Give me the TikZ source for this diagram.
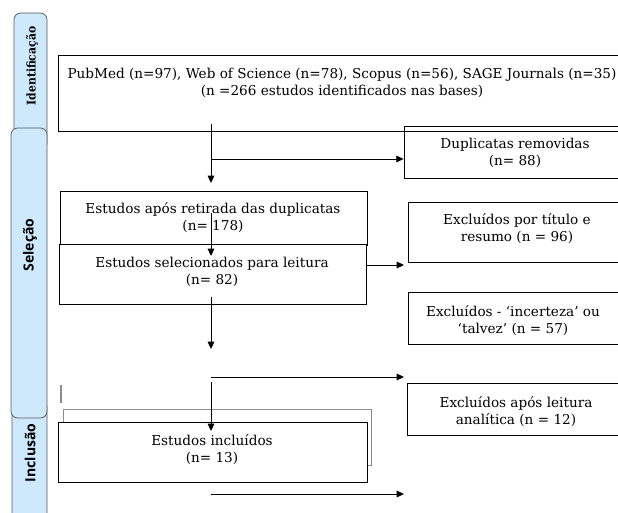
\documentclass[tikz,border=0pt]{standalone}
\usepackage{fontspec}
\setmainfont{DejaVu Serif}
\newfontfamily\tabsans{Open Sans}
\newfontfamily\tabserif{DejaVu Serif Condensed}
\usetikzlibrary{arrows.meta, positioning, calc, fit}
\definecolor{tabFill}{HTML}{CDE9FB}
\definecolor{tabLine}{HTML}{5A5A5A}
\definecolor{ghostLine}{HTML}{8C8C8C}

\begin{document}
\begin{tikzpicture}[
  x=0.75pt, y=-0.75pt,
  box/.style={draw, inner sep=0pt, line width=0.6pt},
  ghostbox/.style={box, draw=ghostLine},
  tab/.style={draw=tabLine, fill=tabFill, rounded corners=5pt, inner sep=0pt, line width=0.6pt},
  txt/.style={align=center, inner sep=0pt, font=\fontsize{10.2}{12.75}\selectfont},
  tablabel/.style={rotate=90, inner sep=0pt, font=\tabsans\bfseries\fontsize{10.5}{12}\selectfont},
  arr/.style={-{Triangle[length=5.5pt, width=5pt]}, line width=0.7pt},
]
\useasboundingbox (0,0) rectangle (618,513);
\clip (0,0) rectangle (618,513);

% phase tabs on the left
\node[tab, fit={(14,13) (47,150)}] (tabId) {};
\node[tab, fit={(12,400) (47,530)}] (tabInc) {};
\node[tab, fit={(11,128) (47,418)}] (tabSel) {};
\node[tablabel, font=\tabserif\bfseries\fontsize{9}{10}\selectfont] (labId) at (32,66) {Identificação};
\node[tablabel] (labSel) at (30,245) {Seleção};
\node[tablabel] (labInc) at (30,453) {Inclusão};

% flow boxes
\node[box, fit={(58,55) (625,131)}] (ids) {};
\node[box, fit={(404,126) (625,178)}] (dup) {};
\node[box, fit={(60,191) (367,245)}] (semdup) {};
\node[box, fill=white, fit={(59,244) (366,304)}] (sel) {};
\node[box, fit={(408,202) (625,262)}] (excTit) {};
\node[box, fit={(408,292) (625,344)}] (excDuv) {};
\node[box, fit={(407,383) (625,435)}] (excLei) {};
\node[ghostbox, fit={(63,409) (371,465)}] (ghost) {};
\node[box, fill=white, fit={(58,422) (367,482)}] (inc) {};

% texts
\node[txt] (idsT) at (342,83) {PubMed (n=97), Web of Science (n=78), Scopus (n=56), SAGE Journals (n=35)\\(n =266 estudos identificados nas bases)};
\node[txt] (dupT) at (515,153) {Duplicatas removidas\\(n= 88)};
\node[txt] (semdupT) at (213,218) {Estudos após retirada das duplicatas\\(n= 178)};
\node[txt] (selT) at (212,272) {Estudos selecionados para leitura\\(n= 82)};
\node[txt] (excTitT) at (517,229) {Excluídos por título e\\resumo (n = 96)};
\node[txt] (excDuvT) at (513,321) {Excluídos - ‘incerteza’ ou\\‘talvez’ (n = 57)};
\node[txt] (excLeiT) at (516,412) {Excluídos após leitura\\analítica (n = 12)};
\node[txt] (incT) at (212,450) {Estudos incluídos\\(n= 13)};

% connector ends
\coordinate (c1a) at (211,124);
\coordinate (c1b) at (211,183);
\coordinate (c1j) at (211,159);
\coordinate (c2a) at (211,213);
\coordinate (c2b) at (211,256);
\coordinate (c3a) at (366,265);
\coordinate (c3b) at (404,265);
\coordinate (c4a) at (211,297);
\coordinate (c4b) at (211,349);
\coordinate (c5a) at (211,377);
\coordinate (c5b) at (404,377);
\coordinate (c6a) at (211,382);
\coordinate (c6b) at (211,431);
\coordinate (c7a) at (211,494);
\coordinate (c7b) at (404,494);
\coordinate (stubA) at (61,385);
\coordinate (stubB) at (61,403);

\draw[arr] (c1a) -- (c1b);
\draw[arr] (c1j) -- (c1j -| dup.west);
\draw[arr] (c2a) -- (c2b);
\draw[arr] (c3a) -- (c3b);
\draw[arr] (c4a) -- (c4b);
\draw[arr] (c5a) -- (c5b);
\draw[arr] (c6a) -- (c6b);
\draw[arr] (c7a) -- (c7b);
\draw[ghostLine, line width=0.8pt] (stubA) -- (stubB);
\end{tikzpicture}
\end{document}
